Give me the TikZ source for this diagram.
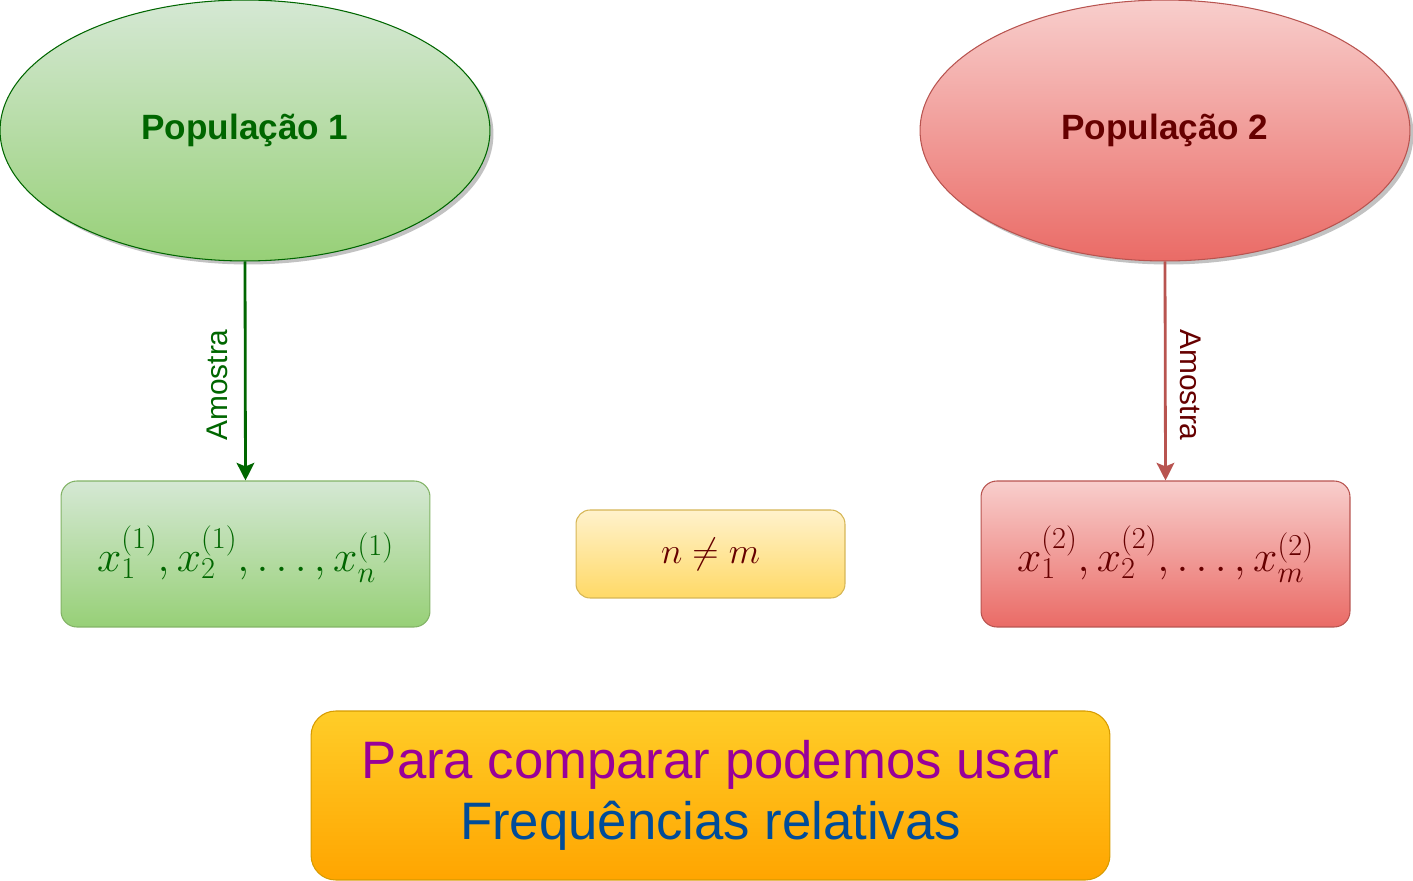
\documentclass[tikz,border=0pt]{standalone}
\usepackage{fontspec}
\setmainfont{Liberation Sans}
\usetikzlibrary{shapes.geometric,shadows,arrows.meta}
\definecolor{gTop}{HTML}{D5E8D4}
\definecolor{gBot}{HTML}{97D077}
\definecolor{gStroke}{HTML}{82B366}
\definecolor{gDark}{HTML}{006600}
\definecolor{rTop}{HTML}{F8CECC}
\definecolor{rBot}{HTML}{EA6B66}
\definecolor{rStroke}{HTML}{B85450}
\definecolor{rDark}{HTML}{660000}
\definecolor{yTop}{HTML}{FFF2CC}
\definecolor{yBot}{HTML}{FFD966}
\definecolor{yStroke}{HTML}{D6B656}
\definecolor{oTop}{HTML}{FFCD28}
\definecolor{oBot}{HTML}{FFA500}
\definecolor{oStroke}{HTML}{D79B00}
\definecolor{purp}{HTML}{990099}
\definecolor{blu}{HTML}{004C99}
\tikzset{
  popnode/.style={ellipse, minimum width=9.8cm, minimum height=5.22cm, inner sep=0pt,
    line width=0.6pt, font=\fontsize{20}{24}\selectfont\bfseries,
    drop shadow={shadow xshift=2pt, shadow yshift=-2pt, fill=black!40, opacity=0.6}},
  sampbox/.style={rectangle, rounded corners=9pt, minimum width=7.38cm, minimum height=2.92cm,
    inner sep=0pt, line width=0.6pt, font=\fontsize{25}{29}\selectfont},
  samparrow/.style={line width=1.6pt, -{Stealth[length=10pt,width=10pt,inset=2pt]}},
  amolabel/.style={font=\fontsize{17}{20}\selectfont, inner sep=0pt}
}
\begin{document}
\begin{tikzpicture}[x=0.02cm, y=-0.02cm]
\useasboundingbox (0,0) rectangle (1413,881);
\node[popnode, draw=gDark, top color=gTop, bottom color=gBot, text=gDark] (pop1) at (245,130.5) {População 1};
\node[popnode, draw=rStroke, top color=rTop, bottom color=rBot, text=rDark] (pop2) at (1165,130.5) {População 2};
\node[sampbox, draw=gStroke, top color=gTop, bottom color=gBot, text=gDark] (s1) at (245.5,554) {$x_1^{(1)},x_2^{(1)},\ldots,x_n^{(1)}$};
\node[sampbox, draw=rStroke, top color=rTop, bottom color=rBot, text=rDark] (s2) at (1165.5,554) {$x_1^{(2)},x_2^{(2)},\ldots,x_m^{(2)}$};
\node[rectangle, rounded corners=8pt, minimum width=5.38cm, minimum height=1.76cm, inner sep=0pt,
  line width=0.6pt, draw=yStroke, top color=yTop, bottom color=yBot, text=rDark,
  font=\fontsize{20}{24}\selectfont] (neq) at (710.5,554) {$n\neq m$};
\node[rectangle, rounded corners=14pt, minimum width=15.98cm, minimum height=3.38cm, inner sep=0pt,
  line width=0.6pt, draw=oStroke, top color=oTop, bottom color=oBot, align=center,
  font=\fontsize{30}{35}\selectfont] (bot) at (710.5,795.5) {\textcolor{purp}{Para comparar podemos usar}\\\textcolor{blu}{Frequências relativas}};
\draw[samparrow, draw=gDark, fill=gDark] (pop1.south) -- (s1.north);
\draw[samparrow, draw=rStroke, fill=rStroke] (pop2.south) -- (s2.north);
\node[amolabel, text=gDark, rotate=90] (lab1) at (217,385) {Amostra};
\node[amolabel, text=rDark, rotate=-90] (lab2) at (1191,385) {Amostra};
\end{tikzpicture}
\end{document}
